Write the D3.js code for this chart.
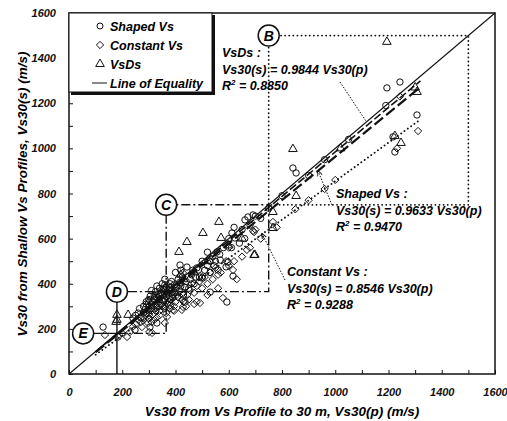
<!DOCTYPE html>
<html><head><meta charset="utf-8">
<script src="https://cdn.jsdelivr.net/npm/d3@7"></script>
<style>
body{margin:0;background:#fff;}
text{font-family:"Liberation Sans",Arial,sans-serif;font-weight:bold;font-style:italic;}
</style></head>
<body><svg id="c" width="507" height="421"></svg>
<script>
// ---- data (m/s) ----
const xTicks = [0,200,400,600,800,1000,1200,1400,1600];
const yTicks = [0,200,400,600,800,1000,1200,1400,1600];
const minorTicks = d3.range(0,1601,100);

const shapedVs = [
 [1194,1268],[1243,1294],[1190,1190],[1307,1148],[1217,1051],[1224,984],[841,913],[853,891],
 [691,705],[672,696],[661,683],[612,625],[623,603],[556,541],[566,530],[597,496],[590,475],
 [616,434],[417,483],[443,474],[486,461],[500,425],[530,450],[560,461],[568,505],[436,319],
 [530,363],[593,319],[128,208],[184,164],[248,195],[304,208],[240,248],[330,226],
 [1050,1040],[960,950],[900,880],[800,790],[750,735],
 [260,270],[280,300],[300,330],[310,290],[320,350],[330,310],[340,380],[350,330],[360,300],
 [370,360],[380,400],[390,340],[400,370],[410,420],[420,390],[430,350],[440,410],[450,380],
 [460,440],[470,400],[480,470],[490,430],[500,500],[510,460],[520,480],[540,520],[550,500],
 [380,330],[350,400],[300,280],[270,250],[290,320],[310,370],[330,390],[360,420],[400,450],
 [420,460],[640,580],[620,650],[700,700],[580,560],[650,640],[720,690],[330,340],[345,360],
 [365,345],[395,395],[405,385],[315,320],[285,285],[355,375],
 [290,310],[305,345],[320,330],[335,355],[350,350],[365,385],[375,370],[385,410],[395,360],
 [415,405],[425,430],[435,385],[455,420],[465,460],[475,430],[300,300],[310,310],[325,365],
 [340,330],[360,395],[280,270],[265,290],[250,260],[520,540],[530,500],[545,480],[600,600],
 [610,560],[660,600],[680,660]
];
const constantVs = [
 [1243,1230],[1311,1077],[1232,1000],[766,674],[691,634],[695,629],[668,550],[616,461],
 [428,448],[424,284],[492,315],[578,337],[135,173],[229,186],[274,208],[278,239],[368,253],
 [391,284],[428,297],[480,320],[218,164],[301,186],[312,182],[297,226],[360,226],[330,250],
 [340,280],[350,300],[370,310],[380,290],[400,320],[410,340],[430,360],[450,330],[470,360],
 [500,380],[520,400],[540,420],[560,440],[600,480],[620,500],[650,520],[680,560],[720,600],
 [780,650],[850,730],[900,770],[960,820],[1000,860],[300,260],[320,300],[360,330],[390,350],
 [310,230],[290,270],[260,240],[420,400],[460,400],[440,300],[630,420],[560,380],[520,350],
 [470,310],[200,180],[240,210],[600,560],[700,640],[335,295],[355,320],[375,335],[395,300],
 [280,250],[295,285],[315,265],[325,280],[345,310],[360,290],[375,320],[385,330],[405,350],
 [415,370],[425,330],[445,350],[455,370],[480,390],[490,410],[510,430],[530,450],[550,470],
 [570,450],[590,500],[320,240],[300,245],[270,230],[250,220],[340,260],[365,270],[380,305],
 [395,280],[430,320],[500,430]
];
const vsDs = [
 [1194,1472],[1307,1250],[1224,1055],[1247,1024],[841,997],[853,789],[766,718],[766,647],
 [563,674],[503,625],[443,585],[571,603],[695,527],[413,541],[180,262],[177,231],[222,262],
 [180,240],[340,350],[360,380],[400,360],[470,450],[520,500],[600,570],[650,600],[1020,1000],
 [1300,1270],[698,528],[430,420],[300,320],[320,340],[350,370],[380,380],[330,300],[420,440]
];
const fitNames = ["VsDs","Shaped Vs","Constant Vs"];
const fitSlopes = [0.9844,0.9633,0.8546];
const fitR2 = ["0.8850","0.9470","0.9288"];
const fitRange = [100,1320];

// ---- drawing ----
const svg = d3.select("#c");
const x = d3.scaleLinear().domain([0,1600]).range([69,495]);
const y = d3.scaleLinear().domain([0,1600]).range([374,13]);

const g = svg.append("g");
function seg(p, style){
  g.append("path").attr("d", d3.line().x(d=>x(d[0])).y(d=>y(d[1]))(p))
   .attr("fill","none").attr("stroke","#111").attr("stroke-width",style.w||1.4)
   .attr("stroke-dasharray",style.dash||null).attr("stroke-linecap",style.cap||"butt");
}
const dotted = {dash:"0.1,4",cap:"round",w:1.8};
const dashDot = {dash:"9,3,2,3",w:1.4};
seg([[750,1500],[1500,1500],[1500,750],[750,750],[750,1500]], dotted);
seg([[365,365],[365,750],[750,750],[750,365],[180,365]], dashDot);
seg([[180,180],[365,180],[365,365]], dashDot);
seg([[53,180],[180,180]], {w:1.4});
seg([[180,0],[180,365]], {w:1.4});

// points
const pts = svg.append("g").attr("fill","none").attr("stroke","#111").attr("stroke-width",1);
pts.selectAll(".s").data(shapedVs).join("circle").attr("cx",d=>x(d[0])).attr("cy",d=>y(d[1])).attr("r",3.2);
const dia = d3.symbol().type(d3.symbolDiamond2 || d3.symbolDiamond).size(34);
pts.selectAll(".c").data(constantVs).join("path").attr("d",dia).attr("transform",d=>`translate(${x(d[0])},${y(d[1])})`);
const tri = d3.symbol().type(d3.symbolTriangle).size(32);
pts.selectAll(".t").data(vsDs).join("path").attr("d",tri).attr("transform",d=>`translate(${x(d[0])},${y(d[1])})`);

// equality + fits
seg([[0,0],[1600,1600]], {w:1.1});
const fitStyles = [{dash:"8,3",w:1.6},{dash:"11,4",w:2.2},{dash:"0.1,4",cap:"round",w:1.9}];
fitSlopes.forEach((s,i)=>seg(fitRange.map(v=>[v,v*s]), fitStyles[i]));

// frame
svg.append("rect").attr("x",69).attr("y",13).attr("width",426).attr("height",361)
  .attr("fill","none").attr("stroke","#111").attr("stroke-width",1.5);

// axes
const xa = svg.append("g").attr("transform","translate(0,374)")
  .call(d3.axisBottom(x).tickValues(minorTicks).tickSizeInner(-4).tickSizeOuter(0).tickPadding(14)
  .tickFormat(d=>xTicks.includes(d)?d:""));
const ya = svg.append("g").attr("transform","translate(69,0)")
  .call(d3.axisLeft(y).tickValues(minorTicks).tickSizeInner(-4).tickSizeOuter(0).tickPadding(13)
  .tickFormat(d=>yTicks.includes(d)?d:""));
[xa,ya].forEach(a=>{a.select(".domain").remove();
  a.selectAll("text").attr("font-size",11).attr("fill","#111");
  a.selectAll("line").attr("stroke","#111");});

svg.append("text").attr("x",282).attr("y",416).attr("text-anchor","middle").attr("font-size",13.5)
  .text("Vs30 from Vs Profile to 30 m, Vs30(p) (m/s)");
svg.append("text").attr("transform","translate(27,194) rotate(-90)").attr("text-anchor","middle").attr("font-size",13.5)
  .text("Vs30 from Shallow Vs Profiles, Vs30(s) (m/s)");

// zone labels
const zones = [["B",750,1500],["C",365,750],["D",180,365],["E",53,180]];
zones.forEach(z=>{
  const gz = svg.append("g").attr("transform",`translate(${x(z[1])},${y(z[2])})`);
  gz.append("circle").attr("r",10.5).attr("fill","#fff").attr("stroke","#111").attr("stroke-width",1.5);
  gz.append("text").attr("text-anchor","middle").attr("dy","0.36em").attr("font-size",14).text(z[0]);
});

// annotations
svg.append("defs").append("marker").attr("id","ah").attr("viewBox","0 0 10 10").attr("refX",9).attr("refY",5)
  .attr("markerWidth",6).attr("markerHeight",6).attr("orient","auto")
  .append("path").attr("d","M0,1L10,5L0,9").attr("fill","none").attr("stroke","#111").attr("stroke-width",1.5);
const ann = [
  {name:0, tx:222, ty:57, from:[340,82], to:[1115,1122], arrow:false},
  {name:1, tx:336, ty:198, from:[332,205], to:[935,901], arrow:true},
  {name:2, tx:287, ty:276, from:[285,280], to:[725,622], arrow:true}
];
ann.forEach(a=>{
  const i=a.name;
  const t = svg.append("text").attr("x",a.tx).attr("y",a.ty).attr("font-size",12.5);
  t.append("tspan").attr("x",a.tx).text(fitNames[i]+" :");
  t.append("tspan").attr("x",a.tx).attr("dy",16.5).text("Vs30(s) = "+fitSlopes[i].toFixed(4)+" Vs30(p)");
  const t3 = t.append("tspan").attr("x",a.tx).attr("dy",16.5).text("R");
  t3.append("tspan").attr("dy",-5).attr("font-size",8).text("2");
  t.append("tspan").attr("dy",5).text(" = "+fitR2[i]);
  svg.append("line").attr("x1",a.from[0]).attr("y1",a.from[1]).attr("x2",x(a.to[0])).attr("y2",y(a.to[1]))
    .attr("stroke","#111").attr("stroke-width",1).attr("stroke-dasharray","1.5,1.5")
    .attr("marker-end",a.arrow?"url(#ah)":null);
});

// legend
const lg = svg.append("g");
lg.append("rect").attr("x",71).attr("y",15).attr("width",144).attr("height",80).attr("fill","#111");
lg.append("rect").attr("x",69).attr("y",13).attr("width",143).attr("height",79).attr("fill","#fff").attr("stroke","#111").attr("stroke-width",1);
const legItems = ["Shaped Vs","Constant Vs","VsDs","Line of Equality"];
legItems.forEach((n,i)=>{
  const yy = 26 + i*19;
  if(i===0) lg.append("circle").attr("cx",100).attr("cy",yy).attr("r",3).attr("fill","none").attr("stroke","#111");
  if(i===1) lg.append("path").attr("d",dia).attr("transform",`translate(100,${yy})`).attr("fill","none").attr("stroke","#111");
  if(i===2) lg.append("path").attr("d",tri).attr("transform",`translate(100,${yy})`).attr("fill","none").attr("stroke","#111");
  if(i===3) lg.append("line").attr("x1",92).attr("x2",107).attr("y1",yy).attr("y2",yy).attr("stroke","#111");
  lg.append("text").attr("x",110).attr("y",yy).attr("dy","0.36em").attr("font-size",12.5).text(n);
});
</script></body></html>
